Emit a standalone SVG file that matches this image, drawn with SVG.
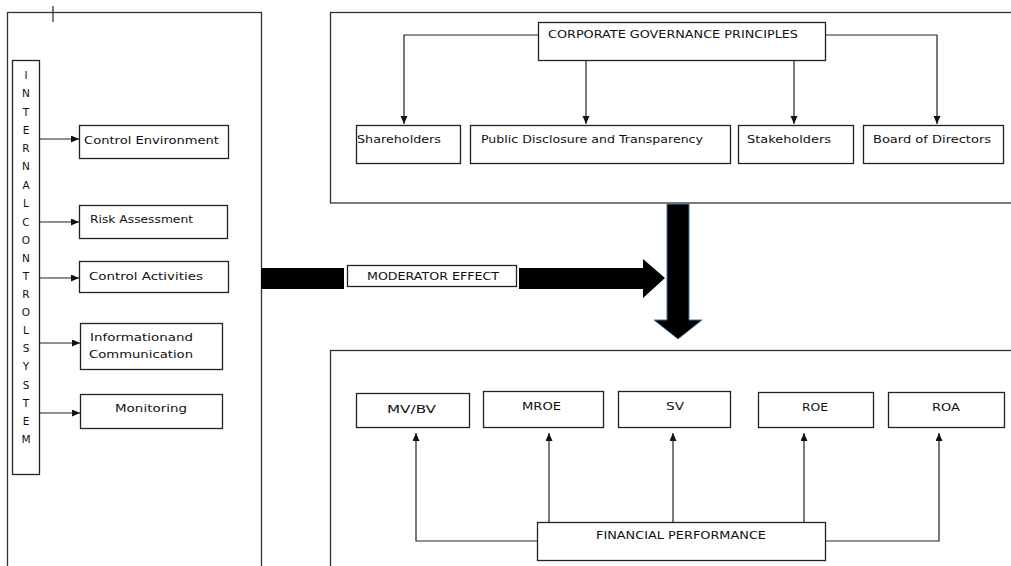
<svg xmlns="http://www.w3.org/2000/svg" width="1011" height="566" viewBox="0 0 1011 566">
<style>
.panel{fill:none;stroke:#333;stroke-width:1.3}
.box{fill:#fff;stroke:#222;stroke-width:1.3}
.ln{fill:none;stroke:#222;stroke-width:1.2}
.t{font-family:"DejaVu Sans",sans-serif;font-size:11px;fill:#111;dominant-baseline:central}
.v{font-family:"DejaVu Sans",sans-serif;font-size:10.5px;fill:#111;text-anchor:middle;dominant-baseline:central}
</style>
<defs>
<marker id="ah" markerUnits="userSpaceOnUse" markerWidth="9" markerHeight="8" refX="8" refY="3.5" orient="auto">
<path d="M0,0 L8,3.5 L0,7 z" fill="#111"/>
</marker>
</defs>
<rect width="1011" height="566" fill="#fff"/>

<g id="panels">
<rect class="panel" x="7.5" y="12.5" width="254" height="600"/>
<line class="ln" x1="53" y1="6" x2="53" y2="22"/>
<rect class="panel" x="330.5" y="12.5" width="700" height="190.5"/>
<rect class="panel" x="330.5" y="350.5" width="700" height="300"/>
</g>

<g id="connectors">
<line class="ln" x1="40" y1="139" x2="79" y2="139" marker-end="url(#ah)"/>
<line class="ln" x1="40" y1="222" x2="79" y2="222" marker-end="url(#ah)"/>
<line class="ln" x1="40" y1="278" x2="79" y2="278" marker-end="url(#ah)"/>
<line class="ln" x1="40" y1="343" x2="80" y2="343" marker-end="url(#ah)"/>
<line class="ln" x1="40" y1="413" x2="80" y2="413" marker-end="url(#ah)"/>
<polyline class="ln" points="538,35 404,35 404,124" marker-end="url(#ah)"/>
<line class="ln" x1="586" y1="61" x2="586" y2="124" marker-end="url(#ah)"/>
<line class="ln" x1="794" y1="61" x2="794" y2="124" marker-end="url(#ah)"/>
<polyline class="ln" points="826,35 937,35 937,124" marker-end="url(#ah)"/>
<polyline class="ln" points="537,541 416,541 416,433" marker-end="url(#ah)"/>
<line class="ln" x1="549" y1="522" x2="549" y2="433" marker-end="url(#ah)"/>
<line class="ln" x1="673" y1="522" x2="673" y2="433" marker-end="url(#ah)"/>
<line class="ln" x1="804" y1="522" x2="804" y2="433" marker-end="url(#ah)"/>
<polyline class="ln" points="826,541 939,541 939,433" marker-end="url(#ah)"/>
<rect x="261" y="268" width="83" height="21" fill="#000"/>
<polygon points="519,268 643,268 643,259 665,278 643,298 643,289 519,289" fill="#000"/>
<polygon points="667,204 689,204 689,320 702,320 678,339 654,320 667,320" fill="#000" stroke="#4a6fa0" stroke-width="1"/>
</g>

<g id="internal-control-system">
<rect class="box" x="12.5" y="60.5" width="27" height="414"/>
<text class="v" x="26" y="75">I</text>
<text class="v" x="26" y="93">N</text>
<text class="v" x="26" y="112">T</text>
<text class="v" x="26" y="130">E</text>
<text class="v" x="26" y="148">R</text>
<text class="v" x="26" y="166">N</text>
<text class="v" x="26" y="185">A</text>
<text class="v" x="26" y="203">L</text>
<text class="v" x="26" y="222">C</text>
<text class="v" x="26" y="240">O</text>
<text class="v" x="26" y="258">N</text>
<text class="v" x="26" y="276">T</text>
<text class="v" x="26" y="294">R</text>
<text class="v" x="26" y="312">O</text>
<text class="v" x="26" y="330">L</text>
<text class="v" x="26" y="348">S</text>
<text class="v" x="26" y="366">Y</text>
<text class="v" x="26" y="385">S</text>
<text class="v" x="26" y="403">T</text>
<text class="v" x="26" y="421">E</text>
<text class="v" x="26" y="439">M</text>
</g>

<g id="control-environment">
<rect class="box" x="79.5" y="125.5" width="149" height="33"/>
<text class="t" x="84" y="140" textLength="135" lengthAdjust="spacingAndGlyphs">Control Environment</text>
</g>
<g id="risk-assessment">
<rect class="box" x="79.5" y="205.5" width="148" height="33"/>
<text class="t" x="90" y="219" textLength="103" lengthAdjust="spacingAndGlyphs">Risk Assessment</text>
</g>
<g id="control-activities">
<rect class="box" x="79.5" y="261.5" width="149" height="31"/>
<text class="t" x="89" y="276" textLength="114" lengthAdjust="spacingAndGlyphs">Control Activities</text>
</g>
<g id="information-communication">
<rect class="box" x="80.5" y="323.5" width="142" height="46"/>
<text class="t" x="90" y="337" textLength="103" lengthAdjust="spacingAndGlyphs">Informationand</text>
<text class="t" x="89" y="354" textLength="104" lengthAdjust="spacingAndGlyphs">Communication</text>
</g>
<g id="monitoring">
<rect class="box" x="80.5" y="394.5" width="142" height="34"/>
<text class="t" x="115" y="408" textLength="72" lengthAdjust="spacingAndGlyphs">Monitoring</text>
</g>

<g id="corporate-governance-principles">
<rect class="box" x="538.5" y="22.5" width="287" height="38"/>
<text class="t" x="548" y="34" textLength="250" lengthAdjust="spacingAndGlyphs">CORPORATE GOVERNANCE PRINCIPLES</text>
</g>
<g id="shareholders">
<rect class="box" x="356.5" y="125.5" width="104" height="38"/>
<text class="t" x="357" y="139" textLength="84" lengthAdjust="spacingAndGlyphs">Shareholders</text>
</g>
<g id="public-disclosure">
<rect class="box" x="470.5" y="125.5" width="260" height="38"/>
<text class="t" x="481" y="139" textLength="222" lengthAdjust="spacingAndGlyphs">Public Disclosure and Transparency</text>
</g>
<g id="stakeholders">
<rect class="box" x="738.5" y="125.5" width="115" height="38"/>
<text class="t" x="747" y="139" textLength="84" lengthAdjust="spacingAndGlyphs">Stakeholders</text>
</g>
<g id="board-of-directors">
<rect class="box" x="863.5" y="125.5" width="140" height="38"/>
<text class="t" x="873" y="139" textLength="118" lengthAdjust="spacingAndGlyphs">Board of Directors</text>
</g>

<g id="moderator-effect">
<rect class="box" x="347.5" y="265.5" width="169" height="21"/>
<text class="t" x="367" y="276" textLength="132" lengthAdjust="spacingAndGlyphs">MODERATOR  EFFECT</text>
</g>

<g id="mvbv">
<rect class="box" x="356.5" y="393.5" width="113" height="34"/>
<text class="t" x="387" y="409" textLength="49" lengthAdjust="spacingAndGlyphs">MV/BV</text>
</g>
<g id="mroe">
<rect class="box" x="483.5" y="391.5" width="120" height="36"/>
<text class="t" x="522" y="406" textLength="39" lengthAdjust="spacingAndGlyphs">MROE</text>
</g>
<g id="sv">
<rect class="box" x="618.5" y="391.5" width="112" height="36"/>
<text class="t" x="666" y="406" textLength="18" lengthAdjust="spacingAndGlyphs">SV</text>
</g>
<g id="roe">
<rect class="box" x="758.5" y="392.5" width="115" height="35"/>
<text class="t" x="802" y="407" textLength="26" lengthAdjust="spacingAndGlyphs">ROE</text>
</g>
<g id="roa">
<rect class="box" x="888.5" y="392.5" width="116" height="35"/>
<text class="t" x="932" y="407" textLength="28" lengthAdjust="spacingAndGlyphs">ROA</text>
</g>
<g id="financial-performance">
<rect class="box" x="537.5" y="522.5" width="288" height="38"/>
<text class="t" x="596" y="535" textLength="170" lengthAdjust="spacingAndGlyphs">FINANCIAL PERFORMANCE</text>
</g>
</svg>
